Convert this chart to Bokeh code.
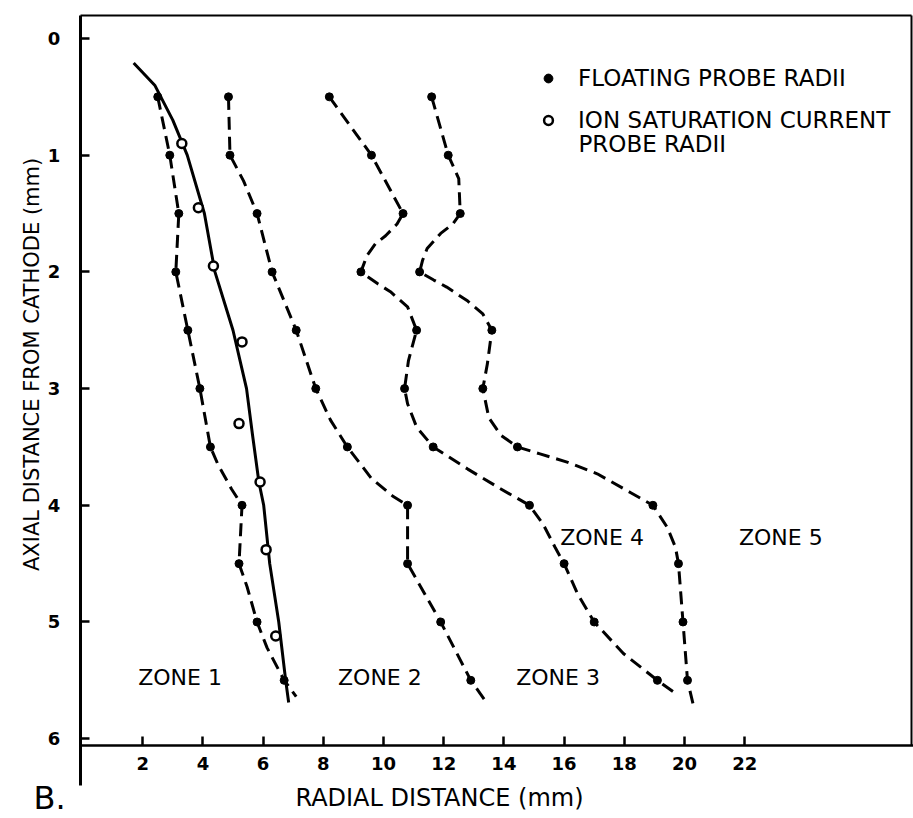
from math import pi
from bokeh.plotting import figure
from bokeh.models import (Range1d, FixedTicker, Label, Legend, LegendItem, ColumnDataSource,
                          LinearAxis)
from bokeh.core.properties import value
from bokeh.embed import file_html
from bokeh.resources import INLINE

FONT = "DejaVu Sans"

# Axial positions of the probe readings (mm from cathode)
axial = [0.5, 1.0, 1.5, 2.0, 2.5, 3.0, 3.5, 4.0, 4.5, 5.0, 5.5]

# Floating probe radii (mm) for the four boundaries
float_1 = [2.5, 2.9, 3.2, 3.1, 3.5, 3.9, 4.25, 5.3, 5.2, 5.8, 6.7]
float_2 = [4.85, 4.9, 5.8, 6.3, 7.1, 7.75, 8.8, 10.8, 10.8, 11.9, 12.9]
float_3 = [8.2, 9.6, 10.65, 9.25, 11.1, 10.7, 11.65, 14.85, 16.0, 17.0, 19.1]
float_4 = [11.6, 12.15, 12.55, 11.2, 13.6, 13.3, 14.45, 18.95, 19.8, 19.95, 20.1]

# Hand-drawn dashed curves through the floating probe points
curve_1_x = [2.5, 2.9, 3.2, 3.1, 3.5, 3.9, 4.25, 4.5, 4.95, 5.3, 5.2, 5.47, 5.8, 6.13, 6.7, 7.1]
curve_1_y = [0.5, 1.0, 1.5, 2.0, 2.5, 3.0, 3.5, 3.65, 3.86, 4.0, 4.5, 4.7, 5.0, 5.22, 5.5, 5.64]
curve_2_x = [4.85, 4.9, 5.35, 5.8, 6.3, 7.1, 7.75, 8.24, 8.8, 9.6, 10.3, 10.8, 10.8, 11.9, 12.9, 13.45]
curve_2_y = [0.5, 1.0, 1.22, 1.5, 2.0, 2.5, 3.0, 3.27, 3.5, 3.77, 3.92, 4.0, 4.5, 5.0, 5.5, 5.7]
curve_3_x = [8.2, 9.6, 10.65, 10.45, 10.07, 9.73, 9.45, 9.25, 9.8, 10.23, 10.8, 11.1, 10.83,
             10.7, 10.8, 11.1, 11.65, 12.8, 13.9, 14.85, 15.3, 15.7, 16.0, 16.45, 17.0,
             17.97, 19.1, 19.8]
curve_3_y = [0.5, 1.0, 1.5, 1.59, 1.69, 1.76, 1.86, 2.0, 2.1, 2.17, 2.3, 2.5, 2.76,
             3.0, 3.13, 3.33, 3.5, 3.69, 3.86, 4.0, 4.16, 4.36, 4.5, 4.76, 5.0,
             5.27, 5.5, 5.63]
curve_4_x = [11.6, 12.15, 12.5, 12.55, 12.3, 11.9, 11.45, 11.3, 11.2, 11.67, 12.1, 12.8, 13.3,
             13.6, 13.45, 13.3, 13.5, 13.9, 14.45, 15.2, 16.1, 17.1, 18.2, 18.95, 19.43, 19.7,
             19.8, 19.95, 20.1, 20.3]
curve_4_y = [0.5, 1.0, 1.2, 1.5, 1.59, 1.67, 1.8, 1.9, 2.0, 2.07, 2.13, 2.25, 2.36,
             2.5, 2.79, 3.0, 3.25, 3.4, 3.5, 3.56, 3.63, 3.73, 3.89, 4.0, 4.19, 4.36,
             4.5, 5.0, 5.5, 5.72]

# Ion saturation current probe radii
ion_r = [3.3, 3.85, 4.35, 5.3, 5.2, 5.9, 6.1, 6.42]
ion_z = [0.9, 1.45, 1.95, 2.6, 3.3, 3.8, 4.38, 5.12]

# Solid curve through the ion saturation points
solid_x = [1.7, 2.4, 3.0, 3.48, 4.05, 4.4, 5.0, 5.45, 5.65, 5.86, 6.02, 6.22, 6.52, 6.75, 6.85]
solid_y = [0.21, 0.4, 0.7, 1.0, 1.5, 2.0, 2.5, 3.0, 3.4, 3.8, 4.0, 4.5, 5.0, 5.5, 5.69]

# Zone labels
zone_text = ["ZONE 1", "ZONE 2", "ZONE 3", "ZONE 4", "ZONE 5"]
zone_x = [3.24, 9.88, 15.8, 17.26, 23.2]
zone_y = [5.476, 5.476, 5.476, 4.28, 4.28]

x_ticks = [2, 4, 6, 8, 10, 12, 14, 16, 18, 20, 22]
y_ticks = [0, 1, 2, 3, 4, 5, 6]

X0, X1 = -0.07, 27.54      # frame left / right (data)
Y0, Y1 = -0.197, 6.058     # frame top / bottom (data, axis reversed)

p = figure(width=913, height=818, output_backend="svg", toolbar_location=None,
           x_range=Range1d(-2.724, 27.608), y_range=Range1d(6.684, -0.3256),
           x_axis_location=None, y_axis_location=None, min_border=0,
           background_fill_color="white", border_fill_color="white")
p.grid.visible = False
p.outline_line_color = None


def style(ax, ticks, width):
    ax.ticker = FixedTicker(ticks=ticks)
    ax.minor_tick_line_color = None
    ax.major_tick_in = 9
    ax.major_tick_out = 0
    ax.major_tick_line_width = 2.5
    ax.major_tick_line_color = "black"
    ax.axis_line_color = "black"
    ax.axis_line_width = width
    ax.major_label_text_font = FONT
    ax.major_label_text_font_size = "18px"
    ax.major_label_text_font_style = "bold"
    ax.major_label_text_color = "black"


x_axis = LinearAxis(fixed_location=Y1, bounds=(X0, 27.61))
style(x_axis, x_ticks, 2.5)
x_axis.major_label_standoff = 12
p.add_layout(x_axis, "below")

y_axis = LinearAxis(fixed_location=X0, bounds=(Y0, 6.4))
style(y_axis, y_ticks, 3)
y_axis.major_label_standoff = 20
p.add_layout(y_axis, "left")

top_line = LinearAxis(fixed_location=Y0, bounds=(X0, X1))
style(top_line, [], 2)
top_line.major_label_text_color = None
p.add_layout(top_line, "above")

right_line = LinearAxis(fixed_location=X1, bounds=(Y0, Y1))
style(right_line, [], 2)
right_line.major_label_text_color = None
p.add_layout(right_line, "right")

dash = "13 7"
dot_renderers = []
for cx, cy, fr in ((curve_1_x, curve_1_y, float_1), (curve_2_x, curve_2_y, float_2),
                   (curve_3_x, curve_3_y, float_3), (curve_4_x, curve_4_y, float_4)):
    p.line(cx, cy, line_color="black", line_width=3, line_dash=dash, line_join="round")
    r = p.scatter(fr, axial, marker="circle", size=8, fill_color="black", line_color="black")
    dot_renderers.append(r)

p.line(solid_x, solid_y, line_color="black", line_width=3, line_join="round")
ion = p.scatter(ion_r, ion_z, marker="circle", size=9, fill_color="white",
                line_color="black", line_width=2.5)

zsrc = ColumnDataSource(dict(x=zone_x, y=zone_y, t=zone_text))
p.text(x="x", y="y", text="t", source=zsrc, text_font=value(FONT), text_font_size="22px",
       text_align="center", text_baseline="middle", text_color="black")

legend = Legend(items=[LegendItem(label="FLOATING PROBE RADII", renderers=[dot_renderers[0]]),
                       LegendItem(label="ION SATURATION CURRENT", renderers=[ion])],
                location=(537, 685), padding=0, spacing=16, glyph_width=22, glyph_height=22,
                label_standoff=19, label_text_font=FONT, label_text_font_size="23px",
                label_text_color="black", border_line_alpha=0, background_fill_alpha=0)
p.add_layout(legend)
p.add_layout(Label(x=16.478, y=0.908, text="PROBE RADII", text_font=FONT,
                   text_font_size="23px", text_align="left", text_baseline="middle",
                   text_color="black"))

p.add_layout(Label(x=11.86, y=6.512, text="RADIAL DISTANCE (mm)", text_font=FONT,
                   text_font_size="24px", text_align="center", text_baseline="middle",
                   text_color="black"))
p.add_layout(Label(x=-1.661, y=2.793, text="AXIAL DISTANCE FROM CATHODE (mm)", angle=pi / 2,
                   text_font=FONT, text_font_size="21px", text_align="center",
                   text_baseline="middle", text_color="black"))
p.add_layout(Label(x=-1.628, y=6.675, text="B.", text_font=FONT, text_font_size="32px",
                   text_align="left", text_baseline="bottom", text_color="black"))

open("out.html", "w").write(file_html(p, INLINE))
